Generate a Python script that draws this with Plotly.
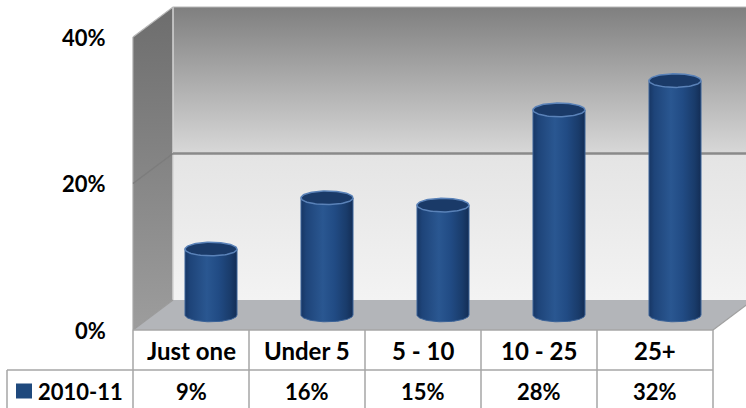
import numpy as np
import plotly.graph_objects as go

# ---- data -------------------------------------------------------------
categories = ["Just one", "Under 5", "5 - 10", "10 - 25", "25+"]
series_name = "2010-11"
values = [9, 16, 15, 28, 32]          # percent
tick_values = [0, 20, 40]
tick_labels = ["0%", "20%", "40%"]

# ---- layout geometry (x: one unit per category, y: percent) ------------
W, H = 746, 408
PX_PER_X = 116.0                      # pixels per category slot
PX_PER_Y = 7.325                      # pixels per percent
X0_PX, Y0_PX = 133.0, 330.0           # front-left corner of the floor
DX = 40.0 / PX_PER_X                  # depth offset of the 3-D box
DY = 30.0 / PX_PER_Y
YMAX = tick_values[-1]
NCAT = len(categories)

x_range = [(0 - X0_PX) / PX_PER_X, (W - X0_PX) / PX_PER_X]
y_range = [(Y0_PX - H) / PX_PER_Y, Y0_PX / PX_PER_Y]

ROW1 = -40.0 / PX_PER_Y               # bottom of the category row
ROW2_MID = -61.0 / PX_PER_Y           # centre of the value row
TABLE_BOTTOM = y_range[0] - 1
LEG_X = (7 - X0_PX) / PX_PER_X        # left border of the series cell

R_X = 26.0 / PX_PER_X                 # cylinder half width
R_Y = 6.8 / PX_PER_Y                  # half height of the end ellipses

FAMILY = "Lato, Carlito, 'Open Sans', sans-serif"
FONT = dict(family=FAMILY, size=22, color="#000000")
FONT_CAT = dict(family=FAMILY, size=24, color="#000000")
GRID = "#a6a6a6"

fig = go.Figure()


def poly(xs, ys, **kw):
    fig.add_trace(go.Scatter(x=list(xs) + [xs[0]], y=list(ys) + [ys[0]],
                             mode="lines", fill="toself", hoverinfo="skip", **kw))


def seg(xs, ys, color, width):
    fig.add_trace(go.Scatter(x=xs, y=ys, mode="lines", hoverinfo="skip",
                             line=dict(color=color, width=width)))


mid = tick_values[1]
right = NCAT + DX

# back wall, upper band
poly([DX, right, right, DX], [mid + DY, mid + DY, YMAX + DY, YMAX + DY],
     line=dict(width=0),
     fillgradient=dict(type="vertical",
                       colorscale=[[0, "#d8d8d8"], [1, "#7f7f7f"]]))
# back wall, lower band
poly([DX, right, right, DX], [DY, DY, mid + DY, mid + DY],
     line=dict(width=0),
     fillgradient=dict(type="vertical",
                       colorscale=[[0, "#f3f3f3"], [1, "#e4e4e4"]]))
# side wall
poly([0, DX, DX, 0], [0, DY, YMAX + DY, YMAX],
     line=dict(width=0),
     fillgradient=dict(type="vertical",
                       colorscale=[[0, "#9d9d9d"], [1, "#6d6d6d"]]))
# floor
poly([0, DX, right, NCAT], [0, DY, DY, 0],
     line=dict(width=0), fillcolor="#b3b5b9")

# wall edges and gridlines
seg([DX, DX], [DY, YMAX + DY], "#d4d4d4", 1.5)
seg([0, DX, right], [YMAX, YMAX + DY, YMAX + DY], "#b8b8b8", 1.2)
seg([0, 0], [0, YMAX], "#a8a8a8", 1.2)
for tv in tick_values[1:-1]:
    seg([0, DX], [tv, tv + DY], "#7c7c7c", 1.5)
    seg([DX, right], [tv + DY, tv + DY], "#8a8a8a", 2.5)
seg([0, DX], [0, DY], "#9a9a9a", 1.2)
seg([NCAT, right], [0, DY], "#a0a0a0", 1.2)

# cylinders
t = np.linspace(0, np.pi, 48)
tt = np.linspace(0, 2 * np.pi, 96)
body_scale = [[0, "#173664"], [0.1, "#1e4479"], [0.42, "#2a5791"],
              [0.65, "#214b84"], [0.88, "#193b6a"], [1, "#132d55"]]
for i, v in enumerate(values):
    cx = i + 0.5 + DX / 2
    yb = DY / 2
    yt = v + DY / 2
    xs = [cx - R_X, cx + R_X] + list(cx + R_X * np.cos(t))
    ys = [yt, yt] + list(yb - R_Y * np.sin(t))
    poly(xs, ys, line=dict(color="#3a6298", width=1),
         fillgradient=dict(type="horizontal", colorscale=body_scale))
    poly(list(cx + R_X * np.cos(tt)), list(yt + R_Y * np.sin(tt)),
         line=dict(color="#5a82b8", width=1.5), fillcolor="#1a3a68")

# data table
shapes = []


def hline(x0, x1, y):
    shapes.append(dict(type="line", xref="x", yref="y", x0=x0, x1=x1, y0=y, y1=y,
                       line=dict(color=GRID, width=1.5), layer="above"))


def vline(x, y0, y1):
    shapes.append(dict(type="line", xref="x", yref="y", x0=x, x1=x, y0=y0, y1=y1,
                       line=dict(color=GRID, width=1.5), layer="above"))


hline(0, NCAT, 0)
hline(LEG_X, NCAT, ROW1)
for k in range(NCAT + 1):
    vline(k, 0, TABLE_BOTTOM)
vline(LEG_X, ROW1, TABLE_BOTTOM)

# legend key in the series cell
shapes.append(dict(type="rect", xref="x", yref="y",
                   x0=(16 - X0_PX) / PX_PER_X, x1=(32 - X0_PX) / PX_PER_X,
                   y0=ROW2_MID + 7.5 / PX_PER_Y, y1=ROW2_MID - 7.5 / PX_PER_Y,
                   fillcolor="#1f497d", line=dict(width=0), layer="above"))

annotations = []
for i, (c, v) in enumerate(zip(categories, values)):
    annotations.append(dict(x=i + 0.5, y=ROW1 / 2, text=f"<b>{c}</b>",
                            showarrow=False, font=FONT_CAT, xanchor="center", yanchor="middle"))
    annotations.append(dict(x=i + 0.5, y=ROW2_MID, text=f"<b>{v}%</b>",
                            showarrow=False, font=FONT, xanchor="center", yanchor="middle"))
annotations.append(dict(x=(36 - X0_PX) / PX_PER_X, y=ROW2_MID, text=f"<b>{series_name}</b>",
                        showarrow=False, font=FONT, xanchor="left", yanchor="middle"))
for tv, tl in zip(tick_values, tick_labels):
    annotations.append(dict(x=(108 - X0_PX) / PX_PER_X, y=tv, text=f"<b>{tl}</b>",
                            showarrow=False, font=FONT, xanchor="right", yanchor="middle"))

fig.update_layout(
    width=W, height=H,
    margin=dict(l=0, r=0, t=0, b=0),
    paper_bgcolor="#ffffff", plot_bgcolor="#ffffff",
    showlegend=False,
    xaxis=dict(range=x_range, visible=False, fixedrange=True),
    yaxis=dict(range=y_range, visible=False, fixedrange=True),
    shapes=shapes, annotations=annotations,
)

fig.write_html("out.html")
